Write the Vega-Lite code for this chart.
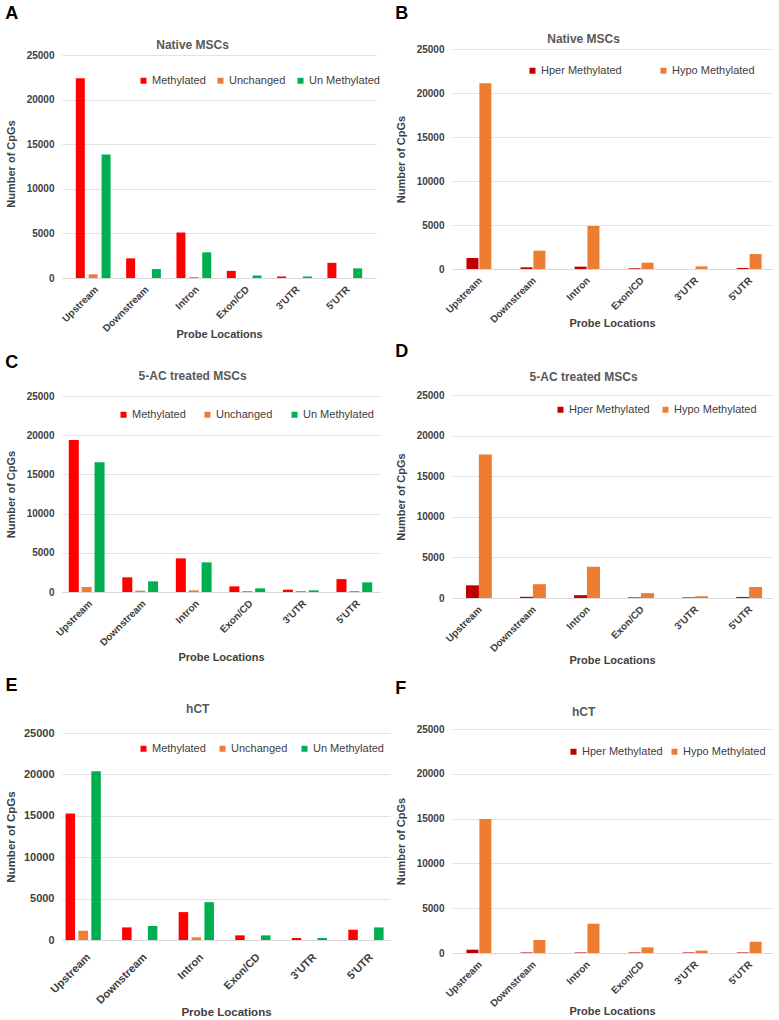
{
  "$schema": "https://vega.github.io/schema/vega-lite/v6.json",
  "background": "white",
  "config": {
    "font": "Liberation Sans",
    "view": {"stroke": null},
    "scale": {"offsetBandPaddingInner": 0, "offsetBandPaddingOuter": 0},
    "title": {"font": "Liberation Sans", "fontSize": 12, "fontWeight": "bold", "color": "#595959", "frame": "bounds"},
    "axis": {"labelFont": "Liberation Sans", "labelFontWeight": "bold", "labelFontSize": 10, "labelColor": "#404040", "titleFont": "Liberation Sans", "titleFontSize": 11, "titleFontWeight": "bold", "titleColor": "#404040", "ticks": false, "domain": false, "gridColor": "#e3e3e3"},
    "axisX": {"grid": false, "domain": true, "domainColor": "#d9d9d9", "labelAngle": -45, "labelPadding": 6, "titlePadding": -5},
    "axisY": {"format": "d", "labelPadding": 8, "titlePadding": 10},
    "legend": {"orient": "none", "direction": "horizontal", "title": null, "symbolType": "square", "symbolSize": 36, "labelFont": "Liberation Sans", "labelFontSize": 11, "labelColor": "#404040", "labelOffset": 3},
    "bar": {"stroke": null}
  },
  "datasets": {
    "A": [
      {"loc": "Upstream", "status": "Methylated", "n": 22400}, {"loc": "Upstream", "status": "Unchanged", "n": 410}, {"loc": "Upstream", "status": "Un Methylated", "n": 13850},
      {"loc": "Downstream", "status": "Methylated", "n": 2200}, {"loc": "Downstream", "status": "Unchanged", "n": 0}, {"loc": "Downstream", "status": "Un Methylated", "n": 1000},
      {"loc": "Intron", "status": "Methylated", "n": 5100}, {"loc": "Intron", "status": "Unchanged", "n": 110}, {"loc": "Intron", "status": "Un Methylated", "n": 2880},
      {"loc": "Exon/CD", "status": "Methylated", "n": 800}, {"loc": "Exon/CD", "status": "Unchanged", "n": 0}, {"loc": "Exon/CD", "status": "Un Methylated", "n": 280},
      {"loc": "3'UTR", "status": "Methylated", "n": 170}, {"loc": "3'UTR", "status": "Unchanged", "n": 0}, {"loc": "3'UTR", "status": "Un Methylated", "n": 170},
      {"loc": "5'UTR", "status": "Methylated", "n": 1700}, {"loc": "5'UTR", "status": "Unchanged", "n": 0}, {"loc": "5'UTR", "status": "Un Methylated", "n": 1080}
    ],
    "B": [
      {"loc": "Upstream", "status": "Hper Methylated", "n": 1250}, {"loc": "Upstream", "status": "Hypo Methylated", "n": 21100},
      {"loc": "Downstream", "status": "Hper Methylated", "n": 190}, {"loc": "Downstream", "status": "Hypo Methylated", "n": 2080},
      {"loc": "Intron", "status": "Hper Methylated", "n": 265}, {"loc": "Intron", "status": "Hypo Methylated", "n": 4890},
      {"loc": "Exon/CD", "status": "Hper Methylated", "n": 80}, {"loc": "Exon/CD", "status": "Hypo Methylated", "n": 720},
      {"loc": "3'UTR", "status": "Hper Methylated", "n": 0}, {"loc": "3'UTR", "status": "Hypo Methylated", "n": 300},
      {"loc": "5'UTR", "status": "Hper Methylated", "n": 110}, {"loc": "5'UTR", "status": "Hypo Methylated", "n": 1700}
    ],
    "C": [
      {"loc": "Upstream", "status": "Methylated", "n": 19400}, {"loc": "Upstream", "status": "Unchanged", "n": 640}, {"loc": "Upstream", "status": "Un Methylated", "n": 16550},
      {"loc": "Downstream", "status": "Methylated", "n": 1870}, {"loc": "Downstream", "status": "Unchanged", "n": 170}, {"loc": "Downstream", "status": "Un Methylated", "n": 1360},
      {"loc": "Intron", "status": "Methylated", "n": 4290}, {"loc": "Intron", "status": "Unchanged", "n": 210}, {"loc": "Intron", "status": "Un Methylated", "n": 3780},
      {"loc": "Exon/CD", "status": "Methylated", "n": 720}, {"loc": "Exon/CD", "status": "Unchanged", "n": 130}, {"loc": "Exon/CD", "status": "Un Methylated", "n": 470},
      {"loc": "3'UTR", "status": "Methylated", "n": 300}, {"loc": "3'UTR", "status": "Unchanged", "n": 130}, {"loc": "3'UTR", "status": "Un Methylated", "n": 210},
      {"loc": "5'UTR", "status": "Methylated", "n": 1650}, {"loc": "5'UTR", "status": "Unchanged", "n": 130}, {"loc": "5'UTR", "status": "Un Methylated", "n": 1230}
    ],
    "D": [
      {"loc": "Upstream", "status": "Hper Methylated", "n": 1560}, {"loc": "Upstream", "status": "Hypo Methylated", "n": 17680},
      {"loc": "Downstream", "status": "Hper Methylated", "n": 150}, {"loc": "Downstream", "status": "Hypo Methylated", "n": 1700},
      {"loc": "Intron", "status": "Hper Methylated", "n": 350}, {"loc": "Intron", "status": "Hypo Methylated", "n": 3850},
      {"loc": "Exon/CD", "status": "Hper Methylated", "n": 80}, {"loc": "Exon/CD", "status": "Hypo Methylated", "n": 600},
      {"loc": "3'UTR", "status": "Hper Methylated", "n": 80}, {"loc": "3'UTR", "status": "Hypo Methylated", "n": 220},
      {"loc": "5'UTR", "status": "Hper Methylated", "n": 130}, {"loc": "5'UTR", "status": "Hypo Methylated", "n": 1350}
    ],
    "E": [
      {"loc": "Upstream", "status": "Methylated", "n": 15290}, {"loc": "Upstream", "status": "Unchanged", "n": 1120}, {"loc": "Upstream", "status": "Un Methylated", "n": 20390},
      {"loc": "Downstream", "status": "Methylated", "n": 1520}, {"loc": "Downstream", "status": "Unchanged", "n": 0}, {"loc": "Downstream", "status": "Un Methylated", "n": 1690},
      {"loc": "Intron", "status": "Methylated", "n": 3370}, {"loc": "Intron", "status": "Unchanged", "n": 320}, {"loc": "Intron", "status": "Un Methylated", "n": 4570},
      {"loc": "Exon/CD", "status": "Methylated", "n": 560}, {"loc": "Exon/CD", "status": "Unchanged", "n": 0}, {"loc": "Exon/CD", "status": "Un Methylated", "n": 560},
      {"loc": "3'UTR", "status": "Methylated", "n": 240}, {"loc": "3'UTR", "status": "Unchanged", "n": 0}, {"loc": "3'UTR", "status": "Un Methylated", "n": 240},
      {"loc": "5'UTR", "status": "Methylated", "n": 1240}, {"loc": "5'UTR", "status": "Unchanged", "n": 0}, {"loc": "5'UTR", "status": "Un Methylated", "n": 1520}
    ],
    "F": [
      {"loc": "Upstream", "status": "Hper Methylated", "n": 370}, {"loc": "Upstream", "status": "Hypo Methylated", "n": 14950},
      {"loc": "Downstream", "status": "Hper Methylated", "n": 60}, {"loc": "Downstream", "status": "Hypo Methylated", "n": 1450},
      {"loc": "Intron", "status": "Hper Methylated", "n": 60}, {"loc": "Intron", "status": "Hypo Methylated", "n": 3270},
      {"loc": "Exon/CD", "status": "Hper Methylated", "n": 60}, {"loc": "Exon/CD", "status": "Hypo Methylated", "n": 630},
      {"loc": "3'UTR", "status": "Hper Methylated", "n": 60}, {"loc": "3'UTR", "status": "Hypo Methylated", "n": 260},
      {"loc": "5'UTR", "status": "Hper Methylated", "n": 60}, {"loc": "5'UTR", "status": "Hypo Methylated", "n": 1260}
    ]
  },
  "hconcat": [
    {
      "vconcat": [
        {
          "title": {"text": "A", "anchor": "start", "fontSize": 18, "color": "#000000", "offset": 16},
          "vconcat": [{
            "width": 314, "height": 229,
            "title": {"text": "Native MSCs", "offset": -3},
            "data": {"name": "A"},
            "mark": {"type": "bar", "width": 9},
            "encoding": {
              "x": {"field": "loc", "type": "nominal", "sort": ["Upstream", "Downstream", "Intron", "Exon/CD", "3'UTR", "5'UTR"], "scale": {"paddingInner": 0.36, "paddingOuter": 0.3}, "axis": {"title": "Probe Locations", "titlePadding": -5}},
              "xOffset": {"field": "status", "type": "nominal", "sort": ["Methylated", "Unchanged", "Un Methylated"], "scale": {"paddingInner": 0, "paddingOuter": 0}},
              "y": {"field": "n", "type": "quantitative", "scale": {"domain": [0, 25673], "nice": false}, "axis": {"title": "Number of CpGs", "values": [0, 5000, 10000, 15000, 20000, 25000]}},
              "color": {"field": "status", "type": "nominal", "scale": {"domain": ["Methylated", "Unchanged", "Un Methylated"], "range": ["#ff0000", "#ed7d31", "#00b050"]}, "legend": {"legendX": 76, "legendY": 26, "columns": 3, "columnPadding": 9}}
            }
          }],
          "resolve": {"scale": {"color": "independent"}, "legend": {"color": "independent"}}
        },
        {
          "title": {"text": "C", "anchor": "start", "fontSize": 18, "color": "#000000", "offset": -2},
          "vconcat": [{
            "width": 318, "height": 196,
            "title": {"text": "5-AC treated MSCs", "offset": 8},
            "data": {"name": "C"},
            "mark": {"type": "bar", "width": 10},
            "encoding": {
              "x": {"field": "loc", "type": "nominal", "sort": ["Upstream", "Downstream", "Intron", "Exon/CD", "3'UTR", "5'UTR"], "scale": {"paddingInner": 0.38, "paddingOuter": 0.16}, "axis": {"title": "Probe Locations", "titlePadding": 4}},
              "xOffset": {"field": "status", "type": "nominal", "sort": ["Methylated", "Unchanged", "Un Methylated"], "scale": {"paddingInner": 0, "paddingOuter": 0}},
              "y": {"field": "n", "type": "quantitative", "scale": {"domain": [0, 25000]}, "axis": {"title": "Number of CpGs", "values": [0, 5000, 10000, 15000, 20000, 25000]}},
              "color": {"field": "status", "type": "nominal", "scale": {"domain": ["Methylated", "Unchanged", "Un Methylated"], "range": ["#ff0000", "#ed7d31", "#00b050"]}, "legend": {"legendX": 56, "legendY": 13, "columns": 3, "columnPadding": 16}}
            }
          }],
          "resolve": {"scale": {"color": "independent"}, "legend": {"color": "independent"}}
        },
        {
          "title": {"text": "E", "anchor": "start", "fontSize": 18, "color": "#000000", "offset": 8},
          "vconcat": [{
            "width": 328, "height": 207,
            "title": {"text": "hCT", "offset": 11},
            "data": {"name": "E"},
            "mark": {"type": "bar", "width": 9.5},
            "encoding": {
              "x": {"field": "loc", "type": "nominal", "sort": ["Upstream", "Downstream", "Intron", "Exon/CD", "3'UTR", "5'UTR"], "scale": {"paddingInner": 0.38, "paddingOuter": 0.09}, "axis": {"title": "Probe Locations", "labelFontSize": 11, "labelPadding": 11, "titlePadding": 1, "titleFontSize": 11.5}},
              "xOffset": {"field": "status", "type": "nominal", "sort": ["Methylated", "Unchanged", "Un Methylated"], "scale": {"paddingInner": 0, "paddingOuter": 0}},
              "y": {"field": "n", "type": "quantitative", "scale": {"domain": [0, 25000]}, "axis": {"title": "Number of CpGs", "values": [0, 5000, 10000, 15000, 20000, 25000], "labelFontSize": 11, "titleFontSize": 11.5, "titlePadding": 7}},
              "color": {"field": "status", "type": "nominal", "scale": {"domain": ["Methylated", "Unchanged", "Un Methylated"], "range": ["#ff0000", "#ed7d31", "#00b050"]}, "legend": {"legendX": 76, "legendY": 10, "columns": 3, "columnPadding": 11}}
            }
          }],
          "resolve": {"scale": {"color": "independent"}, "legend": {"color": "independent"}}
        }
      ],
      "spacing": 14,
      "resolve": {"scale": {"color": "independent"}, "legend": {"color": "independent"}}
    },
    {
      "vconcat": [
        {
          "title": {"text": "B", "anchor": "start", "fontSize": 18, "color": "#000000", "offset": 10},
          "vconcat": [{
            "width": 320, "height": 220,
            "title": {"text": "Native MSCs", "offset": -2},
            "data": {"name": "B"},
            "mark": {"type": "bar", "width": 12},
            "encoding": {
              "x": {"field": "loc", "type": "nominal", "sort": ["Upstream", "Downstream", "Intron", "Exon/CD", "3'UTR", "5'UTR"], "scale": {"paddingInner": 0.48, "paddingOuter": 0.2}, "axis": {"title": "Probe Locations", "titlePadding": -7}},
              "xOffset": {"field": "status", "type": "nominal", "sort": ["Hper Methylated", "Hypo Methylated"], "scale": {"paddingInner": 0.25, "paddingOuter": 0}},
              "y": {"field": "n", "type": "quantitative", "scale": {"domain": [0, 25000]}, "axis": {"title": "Number of CpGs", "values": [0, 5000, 10000, 15000, 20000, 25000]}},
              "color": {"field": "status", "type": "nominal", "scale": {"domain": ["Hper Methylated", "Hypo Methylated"], "range": ["#c00000", "#ed7d31"]}, "legend": {"legendX": 75, "legendY": 16, "columns": 2, "columnPadding": 36}}
            }
          }],
          "resolve": {"scale": {"color": "independent"}, "legend": {"color": "independent"}}
        },
        {
          "title": {"text": "D", "anchor": "start", "fontSize": 18, "color": "#000000", "offset": 10},
          "vconcat": [{
            "width": 320, "height": 203,
            "title": {"text": "5-AC treated MSCs", "offset": 6},
            "data": {"name": "D"},
            "mark": {"type": "bar", "width": 13},
            "encoding": {
              "x": {"field": "loc", "type": "nominal", "sort": ["Upstream", "Downstream", "Intron", "Exon/CD", "3'UTR", "5'UTR"], "scale": {"paddingInner": 0.48, "paddingOuter": 0.2}, "axis": {"title": "Probe Locations", "titlePadding": 1}},
              "xOffset": {"field": "status", "type": "nominal", "sort": ["Hper Methylated", "Hypo Methylated"], "scale": {"paddingInner": 0.25, "paddingOuter": 0}},
              "y": {"field": "n", "type": "quantitative", "scale": {"domain": [0, 25000]}, "axis": {"title": "Number of CpGs", "values": [0, 5000, 10000, 15000, 20000, 25000]}},
              "color": {"field": "status", "type": "nominal", "scale": {"domain": ["Hper Methylated", "Hypo Methylated"], "range": ["#c00000", "#ed7d31"]}, "legend": {"legendX": 103, "legendY": 9, "columns": 2, "columnPadding": 10}}
            }
          }],
          "resolve": {"scale": {"color": "independent"}, "legend": {"color": "independent"}}
        },
        {
          "title": {"text": "F", "anchor": "start", "fontSize": 18, "color": "#000000", "offset": 8},
          "vconcat": [{
            "width": 320, "height": 224,
            "title": {"text": "hCT", "offset": 5},
            "data": {"name": "F"},
            "mark": {"type": "bar", "width": 12},
            "encoding": {
              "x": {"field": "loc", "type": "nominal", "sort": ["Upstream", "Downstream", "Intron", "Exon/CD", "3'UTR", "5'UTR"], "scale": {"paddingInner": 0.48, "paddingOuter": 0.2}, "axis": {"title": "Probe Locations", "titlePadding": -3}},
              "xOffset": {"field": "status", "type": "nominal", "sort": ["Hper Methylated", "Hypo Methylated"], "scale": {"paddingInner": 0.25, "paddingOuter": 0}},
              "y": {"field": "n", "type": "quantitative", "scale": {"domain": [0, 25000]}, "axis": {"title": "Number of CpGs", "values": [0, 5000, 10000, 15000, 20000, 25000]}},
              "color": {"field": "status", "type": "nominal", "scale": {"domain": ["Hper Methylated", "Hypo Methylated"], "range": ["#c00000", "#ed7d31"]}, "legend": {"legendX": 116, "legendY": 17, "columns": 2, "columnPadding": 6}}
            }
          }],
          "resolve": {"scale": {"color": "independent"}, "legend": {"color": "independent"}}
        }
      ],
      "spacing": 14,
      "resolve": {"scale": {"color": "independent"}, "legend": {"color": "independent"}}
    }
  ],
  "spacing": 5,
  "resolve": {"scale": {"color": "independent"}, "legend": {"color": "independent"}}
}
